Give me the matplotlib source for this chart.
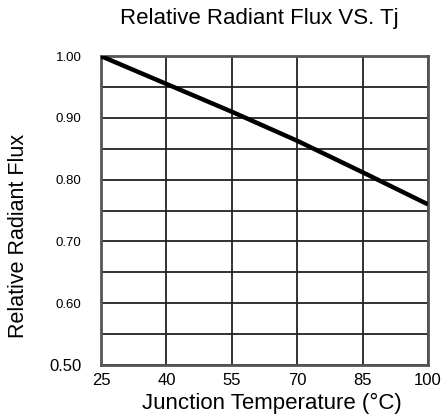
import matplotlib
matplotlib.use("Agg")
import matplotlib.pyplot as plt
from matplotlib.ticker import MultipleLocator

plt.rcParams["font.family"] = ["Liberation Sans", "DejaVu Sans"]

# data
temps = [25, 40, 55, 70, 85, 100]
flux = [1.00, 0.955, 0.91, 0.863, 0.812, 0.76]

x_ticks = [25, 40, 55, 70, 85, 100]
y_ticks = [0.50, 0.60, 0.70, 0.80, 0.90, 1.00]
y_tick_labels = ["0.50", "0.60", "0.70", "0.80", "0.90", "1.00"]

fig = plt.figure(figsize=(4.43, 4.19), dpi=100)
ax = fig.add_axes([0.228, 0.129, 0.738, 0.737])

ax.plot(temps, flux, color="black", linewidth=3.2, solid_capstyle="butt", zorder=3)

ax.set_xlim(25, 100)
ax.set_ylim(0.50, 1.00)
ax.set_xticks(x_ticks)
ax.set_yticks(y_ticks)
ax.set_yticklabels(y_tick_labels)
ax.yaxis.set_minor_locator(MultipleLocator(0.05))

ax.grid(True, which="both", axis="y", color="#222222", linewidth=1.3)
ax.grid(True, which="major", axis="x", color="#222222", linewidth=1.3)
ax.tick_params(which="both", length=0)
ax.tick_params(axis="y", labelsize=9.5, pad=14)
ax.tick_params(axis="x", labelsize=12, pad=6)
for lab in ax.get_yticklabels():
    if lab.get_text() == "0.50":
        lab.set_fontsize(12)
for sp in ax.spines.values():
    sp.set_color("#555555")
    sp.set_linewidth(2)

fig.text(0.586, 0.957, "Relative Radiant Flux VS. Tj", ha="center", va="center", fontsize=16)
fig.text(0.613, 0.038, "Junction Temperature (°C)", ha="center", va="center", fontsize=16)
fig.text(0.042, 0.437, "Relative Radiant Flux", rotation=90, ha="center", va="center", fontsize=15.5)

fig.savefig("out.png", dpi=100, facecolor="white")
